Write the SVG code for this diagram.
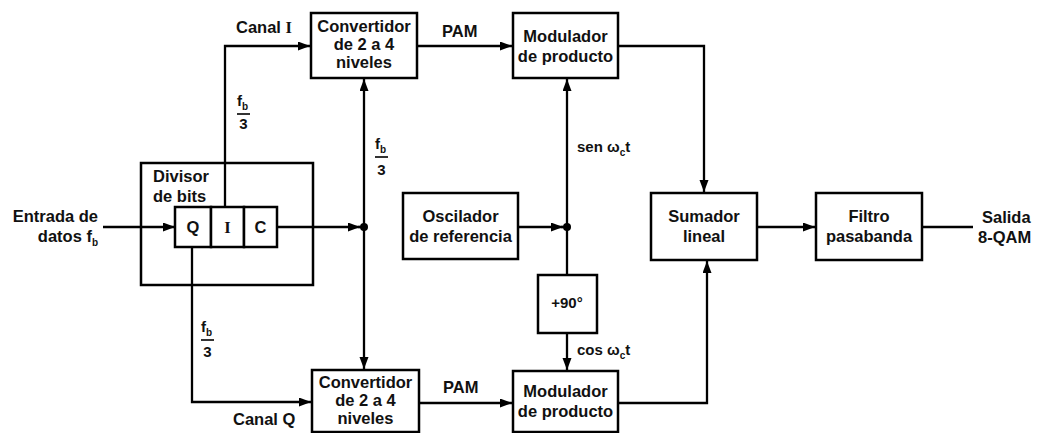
<svg xmlns="http://www.w3.org/2000/svg" width="1040" height="433" viewBox="0 0 1040 433">
<defs>
<marker id="ah" markerUnits="userSpaceOnUse" markerWidth="13" markerHeight="10" refX="12" refY="4.5" orient="auto">
<path d="M0,0 L12,4.5 L0,9 z" fill="#000"/>
</marker>
<style>
.box{fill:#fff;stroke:#000;stroke-width:2.5}
.ln{fill:none;stroke:#000;stroke-width:2.3}
.arr{fill:none;stroke:#000;stroke-width:2.3;marker-end:url(#ah)}
text{font-family:"Liberation Sans",Arial,sans-serif;font-weight:bold;font-size:16.5px;fill:#111}
.c{text-anchor:middle}
.e{text-anchor:end}
.sm{font-size:15px}
.sub{font-size:10px}
.bar{stroke:#000;stroke-width:1.6}
</style>
</defs>
<rect width="1040" height="433" fill="#fff"/>

<g id="divisor">
<rect class="box" x="141" y="163" width="172" height="122"/>
<text x="153" y="182">Divisor</text>
<text x="153" y="202">de bits</text>
</g>

<g id="connectors">
<path class="arr" d="M103,227 H175"/>
<path class="arr" d="M225,207 V46 H310"/>
<path class="arr" d="M192,247 V402 H311"/>
<path class="arr" d="M277,227 H360"/>
<path class="ln" d="M358,227 H364"/>
<path class="arr" d="M364,227 V79"/>
<path class="arr" d="M364,227 V369"/>
<path class="arr" d="M417,46 H512"/>
<path class="arr" d="M419,403 H512"/>
<path class="arr" d="M518,227 H563"/>
<path class="ln" d="M561,227 H567"/>
<path class="arr" d="M567,227 V79"/>
<path class="ln" d="M567,227 V275"/>
<path class="arr" d="M567,333 V370"/>
<path class="arr" d="M618,46 H704 V192"/>
<path class="arr" d="M618,403 H707 V261"/>
<path class="arr" d="M757,227 H815"/>
<path class="ln" d="M922,227 H973"/>
<circle cx="364" cy="227" r="4"/>
<circle cx="567" cy="227" r="4"/>
</g>

<g id="registro">
<rect class="box" x="175" y="207" width="36" height="40"/>
<rect class="box" x="211" y="207" width="33" height="40"/>
<rect class="box" x="244" y="207" width="33" height="40"/>
<text class="c" x="193" y="233">Q</text>
<text class="c" x="227.5" y="233" style="font-family:'Liberation Serif',serif">I</text>
<text class="c" x="260.5" y="233">C</text>
</g>

<g id="conv-i">
<rect class="box" x="311" y="13" width="106" height="65"/>
<text class="c" x="364" y="32">Convertidor</text>
<text class="c" x="364" y="50">de 2 a 4</text>
<text class="c" x="364" y="68">niveles</text>
</g>

<g id="conv-q">
<rect class="box" x="312" y="370" width="107" height="62"/>
<text class="c" x="365.5" y="388">Convertidor</text>
<text class="c" x="365.5" y="406">de 2 a 4</text>
<text class="c" x="365.5" y="424">niveles</text>
</g>

<g id="mod-i">
<rect class="box" x="513" y="13" width="105" height="65"/>
<text class="c" x="565.5" y="42">Modulador</text>
<text class="c" x="565.5" y="62">de producto</text>
</g>

<g id="mod-q">
<rect class="box" x="513" y="371" width="105" height="61"/>
<text class="c" x="565.5" y="397">Modulador</text>
<text class="c" x="565.5" y="417">de producto</text>
</g>

<g id="oscilador">
<rect class="box" x="403" y="193" width="115" height="66"/>
<text class="c" x="460.5" y="222">Oscilador</text>
<text class="c" x="460.5" y="242">de referencia</text>
</g>

<g id="fase">
<rect class="box" x="538" y="275" width="59" height="58"/>
<text class="c sm" x="567" y="308">+90°</text>
</g>

<g id="sumador">
<rect class="box" x="651" y="193" width="106" height="67"/>
<text class="c" x="704" y="222">Sumador</text>
<text class="c" x="704" y="242">lineal</text>
</g>

<g id="filtro">
<rect class="box" x="816" y="193" width="106" height="67"/>
<text class="c" x="869" y="222">Filtro</text>
<text class="c" x="869" y="242">pasabanda</text>
</g>

<g id="labels">
<text class="e" x="98" y="222">Entrada de</text>
<text class="e" x="98" y="242">datos f<tspan class="sub" dy="4">b</tspan></text>
<text x="236" y="33">Canal <tspan style="font-family:'Liberation Serif',serif">I</tspan></text>
<text x="233" y="425">Canal Q</text>
<text x="442" y="37">PAM</text>
<text x="443" y="393">PAM</text>
<text class="sm" x="577" y="152">sen ω<tspan class="sub" dy="4">c</tspan><tspan dy="-4">t</tspan></text>
<text class="sm" x="577" y="355">cos ω<tspan class="sub" dy="4">c</tspan><tspan dy="-4">t</tspan></text>
<text x="982" y="223">Salida</text>
<text x="978" y="243">8-QAM</text>
</g>

<g id="fb3-i">
<text class="sm" x="237" y="106">f<tspan class="sub" dy="4">b</tspan></text>
<line class="bar" x1="237" y1="114" x2="250" y2="114"/>
<text class="sm c" x="243.5" y="129">3</text>
</g>
<g id="fb3-clk">
<text class="sm" x="375" y="149">f<tspan class="sub" dy="4">b</tspan></text>
<line class="bar" x1="375" y1="157" x2="388" y2="157"/>
<text class="sm c" x="381.5" y="175">3</text>
</g>
<g id="fb3-q">
<text class="sm" x="201" y="332">f<tspan class="sub" dy="4">b</tspan></text>
<line class="bar" x1="201" y1="340" x2="214" y2="340"/>
<text class="sm c" x="207.5" y="357">3</text>
</g>
</svg>
